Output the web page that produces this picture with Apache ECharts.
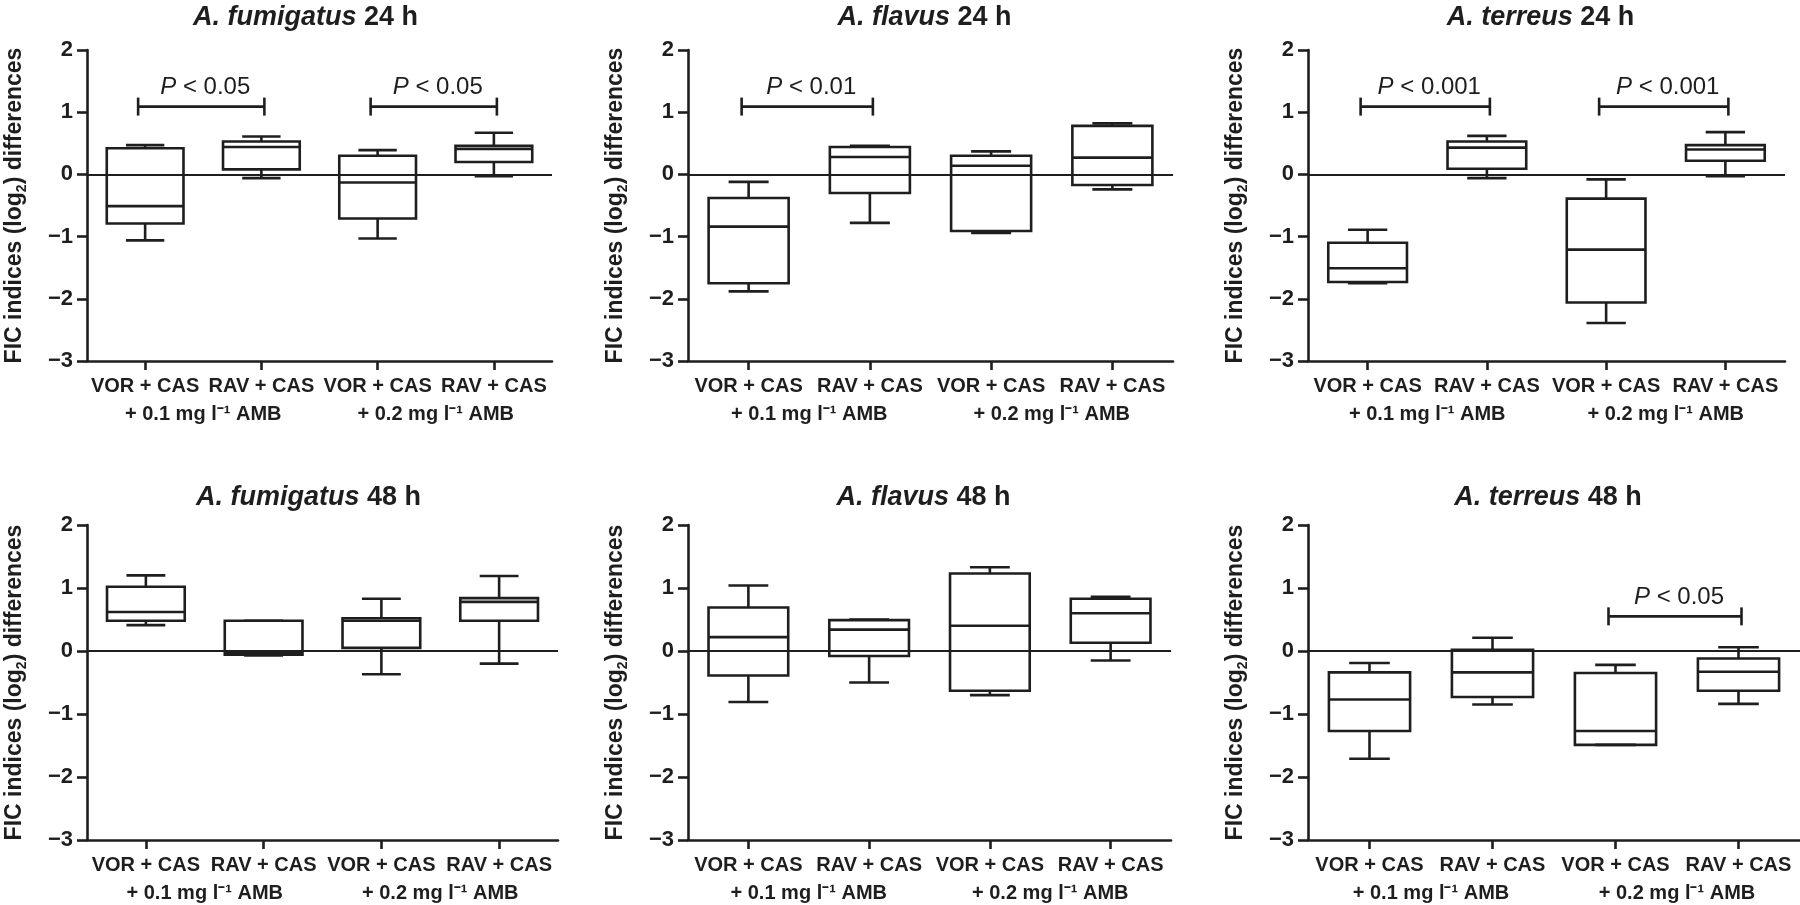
<!DOCTYPE html>
<html><head><meta charset="utf-8">
<script src="https://cdn.jsdelivr.net/npm/echarts@6/dist/echarts.min.js"></script>
<style>html,body{margin:0;padding:0;background:#fff}#c{width:1800px;height:905px}</style>
</head><body><div id="c"></div>
<script>
// ---------- data ----------
const categories = ['VOR + CAS', 'RAV + CAS', 'VOR + CAS', 'RAV + CAS'];
const groupLabels = ['+ 0.1 mg l\u207B\u00B9 AMB', '+ 0.2 mg l\u207B\u00B9 AMB'];
const yTicks = [-3, -2, -1, 0, 1, 2];
const yName = 'FIC indices (log{sub|2}) differences';
const panelSpecies = ['A. fumigatus', 'A. flavus', 'A. terreus', 'A. fumigatus', 'A. flavus', 'A. terreus'];
const panelTimes = ['24 h', '24 h', '24 h', '48 h', '48 h', '48 h'];

// each row: [min, Q1, median, Q3, max]
const fumigatus24 = [[-1.06, -0.79, -0.51, 0.42, 0.47], [-0.06, 0.08, 0.44, 0.53, 0.61], [-1.03, -0.71, -0.13, 0.30, 0.39], [-0.03, 0.20, 0.41, 0.46, 0.67]];
const flavus24    = [[-1.88, -1.75, -0.84, -0.38, -0.12], [-0.78, -0.30, 0.28, 0.44, 0.46], [-0.94, -0.91, 0.14, 0.30, 0.37], [-0.24, -0.17, 0.27, 0.78, 0.82]];
const terreus24   = [[-1.75, -1.73, -1.51, -1.10, -0.89], [-0.06, 0.09, 0.43, 0.53, 0.62], [-2.39, -2.06, -1.21, -0.39, -0.08], [-0.03, 0.22, 0.40, 0.47, 0.68]];
const fumigatus48 = [[0.41, 0.48, 0.62, 1.02, 1.20], [-0.07, -0.06, -0.03, 0.48, 0.48], [-0.37, 0.05, 0.48, 0.52, 0.83], [-0.20, 0.48, 0.78, 0.84, 1.19]];
const flavus48    = [[-0.81, -0.39, 0.22, 0.69, 1.04], [-0.50, -0.08, 0.34, 0.49, 0.50], [-0.70, -0.63, 0.40, 1.23, 1.33], [-0.15, 0.13, 0.60, 0.83, 0.86]];
const terreus48   = [[-1.71, -1.27, -0.77, -0.34, -0.19], [-0.85, -0.73, -0.34, 0.02, 0.21], [-1.49, -1.49, -1.27, -0.35, -0.22], [-0.84, -0.63, -0.33, -0.12, 0.06]];
const panelData = [fumigatus24, flavus24, terreus24, fumigatus48, flavus48, terreus48];

// significance brackets: panel, from category, to category, y value, label
const bracketPanel = [0, 0, 1, 2, 2, 5];
const bracketFrom  = [0, 2, 0, 0, 2, 2];
const bracketTo    = [1, 3, 1, 1, 3, 3];
const bracketY     = [1.09, 1.09, 1.09, 1.09, 1.09, 0.55];
const bracketLabel = ['0.05', '0.05', '0.01', '0.001', '0.001', '0.05'];

// ---------- layout / style ----------
const INK = '#1e1e1e';
const FONT = '"Liberation Sans", Arial, Helvetica, sans-serif';
const grids = [
  {left: 71, top: 50, width: 481, height: 311},
  {left: 688, top: 50, width: 485, height: 311},
  {left: 1308, top: 50, width: 477, height: 311},
  {left: 71, top: 525, width: 487, height: 315},
  {left: 688, top: 525, width: 483, height: 315},
  {left: 1308, top: 525, width: 492, height: 315}
];
const titleY = [18, 18, 18, 498, 498, 498];

const xAxes = [], yAxes = [], series = [], graphics = [];
grids.forEach((g, i) => {
  xAxes.push({
    type: 'category', gridIndex: i, data: categories, position: 'bottom',
    axisLine: {show: true, onZero: false, lineStyle: {color: INK, width: 2.6}},
    axisTick: {show: true, alignWithLabel: true, length: 9, lineStyle: {color: INK, width: 2.6}},
    axisLabel: {color: INK, fontSize: 20, fontWeight: 'bold', fontFamily: FONT, margin: 15, interval: 0},
    splitLine: {show: false}
  });
  xAxes.push({
    type: 'category', gridIndex: i, data: groupLabels, position: 'bottom', offset: 28,
    axisLine: {show: false}, axisTick: {show: false},
    axisLabel: {color: INK, fontSize: 20, fontWeight: 'bold', fontFamily: FONT, margin: 15, interval: 0},
    splitLine: {show: false}
  });
  yAxes.push({
    type: 'value', gridIndex: i,
    min: yTicks[0], max: yTicks[yTicks.length - 1], interval: yTicks[1] - yTicks[0],
    axisLine: {show: true, lineStyle: {color: INK, width: 2.6}},
    axisTick: {show: true, length: 10, lineStyle: {color: INK, width: 2.6}},
    axisLabel: {color: INK, fontSize: 22, fontWeight: 'bold', fontFamily: FONT, margin: 14,
      formatter: v => String(v).replace('-', '\u2212')},
    splitLine: {show: false},
    name: yName, nameLocation: 'middle', nameRotate: 90, nameGap: 58,
    nameTextStyle: {color: INK, fontSize: 23, fontWeight: 'bold', fontFamily: FONT, lineHeight: 28,
      rich: {sub: {fontSize: 14, fontWeight: 'bold', fontFamily: FONT, color: INK, verticalAlign: 'bottom', lineHeight: 14}}}
  });

  series.push({
    type: 'custom', xAxisIndex: i * 2, yAxisIndex: i, silent: true, z: 3,
    data: panelData[i].map((d, k) => [k].concat(d)),
    encode: {x: 0, y: [1, 2, 3, 4, 5]},
    renderItem: function (params, api) {
      const c = api.value(0);
      const band = api.size([1, 0])[0];
      const bw = band * 0.66, cw = bw * 0.5;
      const pMin = api.coord([c, api.value(1)]);
      const pQ1 = api.coord([c, api.value(2)]);
      const pMed = api.coord([c, api.value(3)]);
      const pQ3 = api.coord([c, api.value(4)]);
      const pMax = api.coord([c, api.value(5)]);
      const x = pMed[0];
      const st = {stroke: INK, lineWidth: 2.6, fill: null};
      return {type: 'group', children: [
        {type: 'line', shape: {x1: x, y1: pMax[1], x2: x, y2: pQ3[1]}, style: st},
        {type: 'line', shape: {x1: x, y1: pQ1[1], x2: x, y2: pMin[1]}, style: st},
        {type: 'line', shape: {x1: x - cw / 2, y1: pMax[1], x2: x + cw / 2, y2: pMax[1]}, style: st},
        {type: 'line', shape: {x1: x - cw / 2, y1: pMin[1], x2: x + cw / 2, y2: pMin[1]}, style: st},
        {type: 'rect', shape: {x: x - bw / 2, y: pQ3[1], width: bw, height: pQ1[1] - pQ3[1]}, style: st},
        {type: 'line', shape: {x1: x - bw / 2, y1: pMed[1], x2: x + bw / 2, y2: pMed[1]}, style: st}
      ]};
    },
    markLine: {silent: true, symbol: 'none', label: {show: false},
      lineStyle: {color: INK, width: 2.2, type: 'solid'}, data: [{yAxis: 0}]}
  });

  const idx = bracketPanel.map((p, k) => p === i ? k : -1).filter(k => k >= 0);
  if (idx.length) {
    series.push({
      type: 'custom', xAxisIndex: i * 2, yAxisIndex: i, silent: true, z: 4,
      data: idx.map(k => [bracketFrom[k], bracketTo[k], bracketY[k], k]),
      encode: {x: [0, 1], y: 2},
      renderItem: function (params, api) {
        const k = api.value(3);
        const a = api.coord([api.value(0), api.value(2)]);
        const b = api.coord([api.value(1), api.value(2)]);
        const x1 = a[0] - 7, x2 = b[0] + 3, y = a[1], h = 9;
        const st = {stroke: INK, lineWidth: 2.6};
        return {type: 'group', children: [
          {type: 'line', shape: {x1: x1, y1: y, x2: x2, y2: y}, style: st},
          {type: 'line', shape: {x1: x1, y1: y - h, x2: x1, y2: y + h}, style: st},
          {type: 'line', shape: {x1: x2, y1: y - h, x2: x2, y2: y + h}, style: st},
          {type: 'text', style: {text: '{i|P} < ' + bracketLabel[k], x: (x1 + x2) / 2 + 4, y: y - 7,
            align: 'center', verticalAlign: 'bottom', fill: INK, fontSize: 24, fontFamily: FONT,
            rich: {i: {fontStyle: 'italic', fontSize: 24, fontFamily: FONT, fill: INK}}}}
        ]};
      }
    });
  }

  graphics.push({
    type: 'text', x: g.left + g.width / 2 - 6, y: titleY[i], silent: true,
    style: {text: '{i|' + panelSpecies[i] + '} ' + panelTimes[i], align: 'center', verticalAlign: 'middle',
      fill: INK, fontSize: 27, fontWeight: 'bold', fontFamily: FONT,
      rich: {i: {fontStyle: 'italic', fontWeight: 'bold', fontSize: 27, fontFamily: FONT, fill: INK}}}
  });
});

const chart = echarts.init(document.getElementById('c'), null, {renderer: 'canvas'});
chart.setOption({
  backgroundColor: '#ffffff',
  animation: false,
  grid: grids,
  xAxis: xAxes,
  yAxis: yAxes,
  series: series,
  graphic: graphics
});
</script>
</body></html>
